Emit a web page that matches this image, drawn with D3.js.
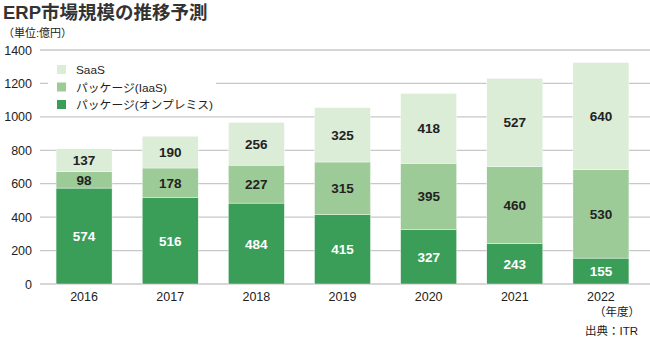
<!DOCTYPE html>
<html><head><meta charset="utf-8">
<script src="https://cdn.jsdelivr.net/npm/d3@7"></script>
<style>
body{margin:0;background:#fff;}
text{font-family:"Liberation Sans","Noto Sans CJK JP",Arial,sans-serif;}
</style></head>
<body><svg id="c" width="650" height="345"></svg>
<script>
const years = ["2016","2017","2018","2019","2020","2021","2022"];
const onPrem = [574,516,484,415,327,243,155];
const iaas = [98,178,227,315,395,460,530];
const saas = [137,190,256,325,418,527,640];
const seriesNames = ["パッケージ(オンプレミス)","パッケージ(IaaS)","SaaS"];
const yTicks = [0,200,400,600,800,1000,1200,1400];
const colors = ["#3a9e58","#9dcb97","#dbecd7"];
const labelColors = ["#ffffff","#222222","#222222"];

const svg = d3.select("#c");
const x = d3.scaleBand().domain(years).range([41,644]).paddingInner(0.35).paddingOuter(0.175);
const y = d3.scaleLinear().domain([0,1400]).range([284,50]);

svg.append("text").attr("x",3).attr("y",19).attr("font-size",18.5).attr("font-weight","bold").attr("fill","#333").text("ERP市場規模の推移予測");
svg.append("text").attr("x",3).attr("y",37).attr("font-size",11).attr("fill","#222").text("（単位:億円）");

// grid
svg.append("g").selectAll("line").data(yTicks).join("line")
  .attr("x1",40).attr("x2",650).attr("y1",d=>y(d)).attr("y2",d=>y(d))
  .attr("stroke","#c8c8c8").attr("stroke-width",1.3);
svg.append("g").selectAll("text").data(yTicks).join("text")
  .attr("x",32).attr("y",d=>y(d)+4.5).attr("text-anchor","end").attr("font-size",12.5).attr("fill","#222").text(d=>d);

const rows = years.map((yr,i)=>({year:yr,s0:onPrem[i],s1:iaas[i],s2:saas[i]}));
const stack = d3.stack().keys(["s0","s1","s2"])(rows);
stack.forEach((layer,k)=>{
  const g = svg.append("g");
  g.selectAll("rect").data(layer).join("rect")
    .attr("x",d=>x(d.data.year)).attr("width",x.bandwidth())
    .attr("y",d=>y(d[1])).attr("height",d=>y(d[0])-y(d[1]))
    .attr("fill",colors[k]).attr("stroke","#fff").attr("stroke-width",0.4);
  g.selectAll("text").data(layer).join("text")
    .attr("x",d=>x(d.data.year)+x.bandwidth()/2).attr("y",d=>(y(d[0])+y(d[1]))/2+5)
    .attr("text-anchor","middle").attr("font-size",13.5).attr("font-weight","bold")
    .attr("fill",labelColors[k]).text(d=>d[1]-d[0]);
});

svg.append("g").selectAll("text").data(years).join("text")
  .attr("x",d=>x(d)+x.bandwidth()/2).attr("y",301).attr("text-anchor","middle")
  .attr("font-size",12.5).attr("fill","#222").text(d=>d);

// legend
svg.append("rect").attr("x",48).attr("y",58).attr("width",168).attr("height",56).attr("fill","#fff");
const leg = [2,1,0];
leg.forEach((k,i)=>{
  svg.append("rect").attr("x",57).attr("y",65+i*17.5).attr("width",9).attr("height",9).attr("fill",colors[k]);
  svg.append("text").attr("x",76).attr("y",74+i*17.5).attr("font-size",11.8).attr("fill","#222").text(seriesNames[k]);
});

svg.append("text").attr("x",640).attr("y",316).attr("text-anchor","end").attr("font-size",11.5).attr("fill","#222").text("（年度）");
svg.append("text").attr("x",638).attr("y",335).attr("text-anchor","end").attr("font-size",11.5).attr("fill","#222").text("出典：ITR");
</script></body></html>
